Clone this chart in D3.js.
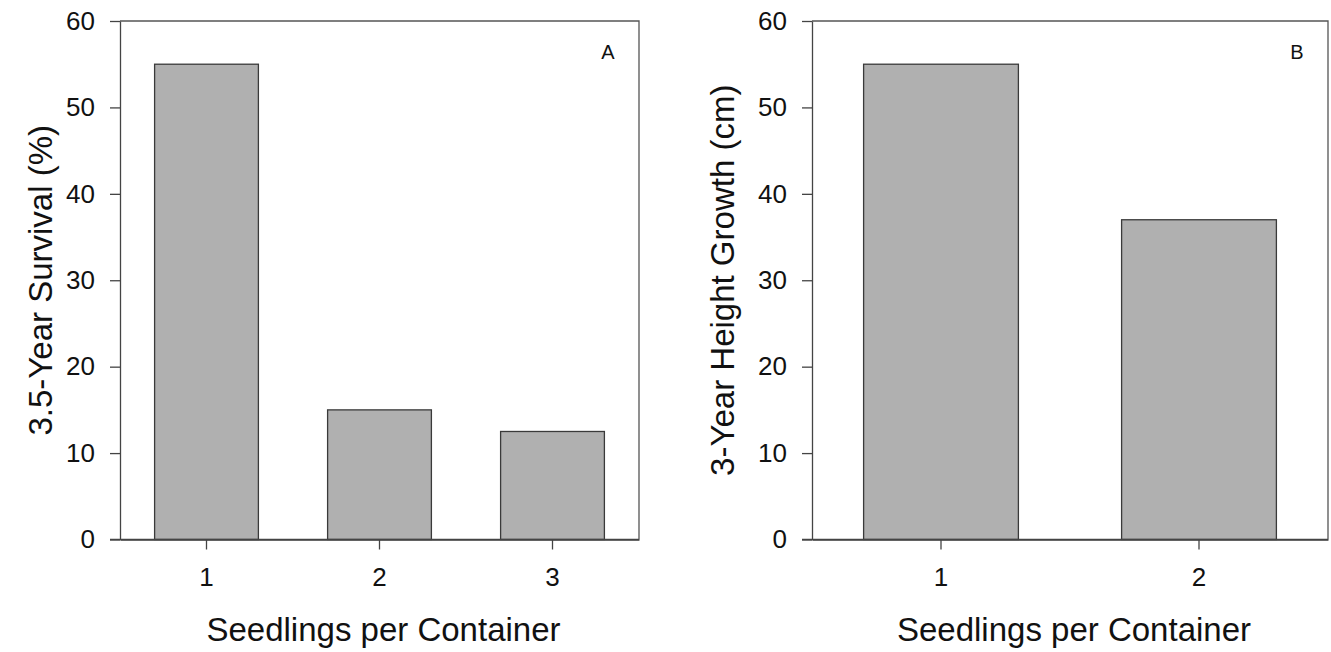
<!DOCTYPE html>
<html>
<head>
<meta charset="UTF-8">
<script src="https://cdn.jsdelivr.net/npm/d3@7"></script>
<style>
  body { margin: 0; background: #fff; }
  svg text { font-family: "Liberation Sans", Arial, sans-serif; fill: #111; }
  .axis path, .axis line { stroke: #444; stroke-width: 1.3; }
</style>
</head>
<body>
<div id="root"></div>
<script>
// data
const seedlingsA = ["1", "2", "3"]
const survivalA = [55, 15, 12.5]
const seedlingsB = ["1", "2"]
const heightB = [55, 37]
const yTicks = [0, 10, 20, 30, 40, 50, 60]

const width = 1331, height = 652
const svg = d3.select("#root").append("svg").attr("width", width).attr("height", height)

const plotTop = 21, plotBottom = 539.5

const panels = [
  { cats: seedlingsA, vals: survivalA, x0: 120, x1: 639, ylab: "3.5-Year Survival (%)", ylabX: 40, tag: "A", tagX: 608 },
  { cats: seedlingsB, vals: heightB, x0: 812, x1: 1328, ylab: "3-Year Height Growth (cm)", ylabX: 722, tag: "B", tagX: 1297 }
]

panels.forEach(p => {
  const x = d3.scaleBand().domain(p.cats).range([p.x0, p.x1]).paddingInner(0.4).paddingOuter(0.2)
  const y = d3.scaleLinear().domain([0, 60]).range([plotBottom, plotTop])
  const g = svg.append("g")

  // bars
  g.selectAll("rect.bar").data(p.vals).enter().append("rect")
    .attr("class", "bar")
    .attr("x", (d, i) => x(p.cats[i]))
    .attr("y", d => y(d))
    .attr("width", x.bandwidth())
    .attr("height", d => plotBottom - y(d))
    .attr("fill", "#b0b0b0")
    .attr("stroke", "#3a3a3a")
    .attr("stroke-width", 1.3)

  // frame top/right
  g.append("path").attr("d", `M${p.x0},${plotTop}H${p.x1}V${plotBottom}`)
    .attr("fill", "none").attr("stroke", "#555").attr("stroke-width", 1.3)

  const yAxis = d3.axisLeft(y).tickValues(yTicks).tickSize(10).tickPadding(15).tickSizeOuter(0)
  g.append("g").attr("class", "axis").attr("transform", `translate(${p.x0},0)`).call(yAxis)
    .selectAll("text").style("font-size", "26px")

  const xAxis = d3.axisBottom(x).tickSize(10).tickPadding(18).tickSizeOuter(0)
  g.append("g").attr("class", "axis").attr("transform", `translate(0,${plotBottom})`).call(xAxis)
    .selectAll("text").style("font-size", "26px")
  // x axis line extends to the 0 tick
  g.append("line").attr("x1", p.x0 - 10).attr("x2", p.x1).attr("y1", plotBottom).attr("y2", plotBottom)
    .attr("stroke", "#444").attr("stroke-width", 1.3)

  g.append("text").text("Seedlings per Container")
    .attr("x", (p.x0 + p.x1) / 2 + 4).attr("y", 641)
    .attr("text-anchor", "middle").style("font-size", "33px")

  g.append("text").text(p.ylab)
    .attr("transform", `translate(${p.ylabX},${(plotTop + plotBottom) / 2}) rotate(-90)`)
    .attr("text-anchor", "middle").attr("dy", "0.35em").style("font-size", "33px")

  g.append("text").text(p.tag)
    .attr("x", p.tagX).attr("y", 59)
    .attr("text-anchor", "middle").style("font-size", "20px")
})
</script>
</body>
</html>
